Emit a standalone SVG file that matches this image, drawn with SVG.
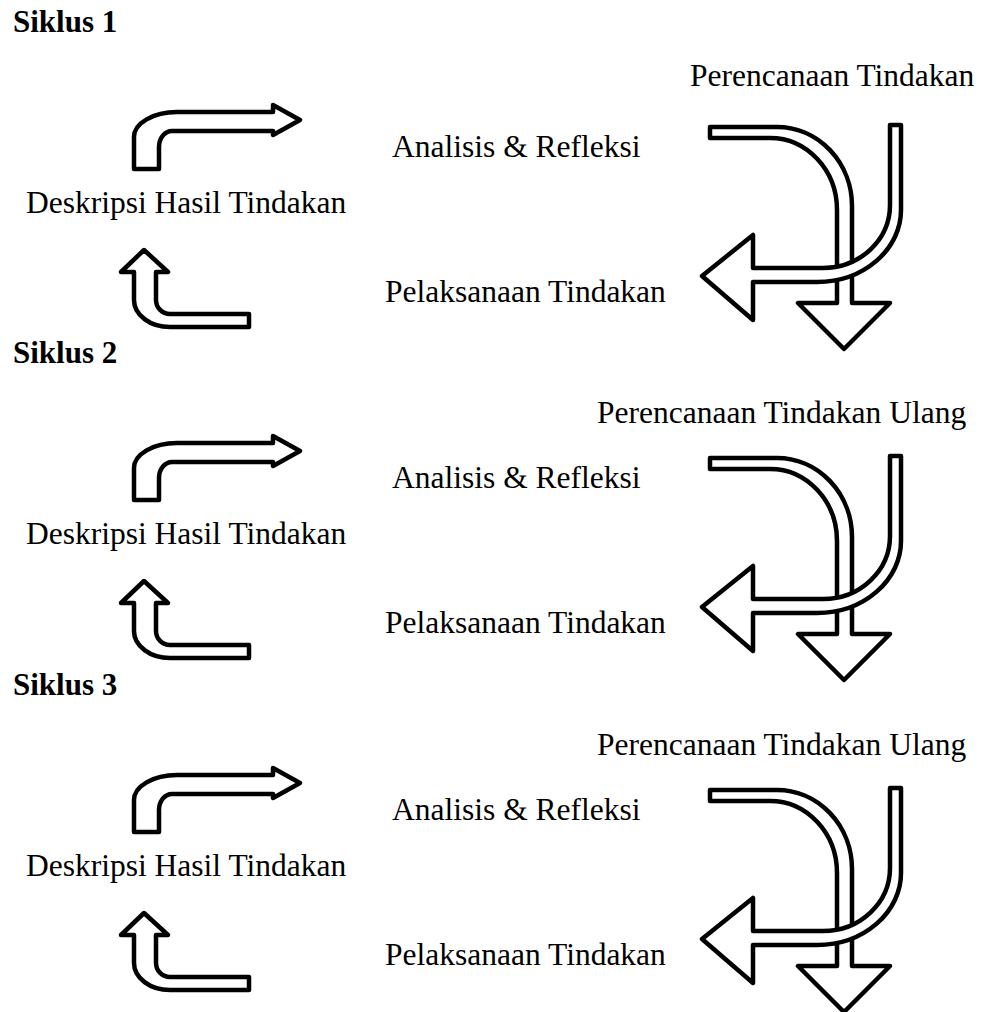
<svg xmlns="http://www.w3.org/2000/svg" width="982" height="1012" viewBox="0 0 982 1012">
  <defs>
    <style>
      .lbl { font-family: "Liberation Serif", "Times New Roman", serif; font-size: 31.5px; fill: #000; }
      .ttl { font-family: "Liberation Serif", "Times New Roman", serif; font-size: 31px; font-weight: bold; fill: #000; }
      .arr { fill: #fff; stroke: #000; stroke-width: 4.5; stroke-linejoin: round; }
    </style>
    <g id="cycle-arrows">
      <path class="arr" d="M134,169 L134,137 A43,25 0 0 1 177,112 L273,112 L273,105 L300,120 L273,135 L273,131 L172,131 A13,16 0 0 0 159,147 L159,169 Z"/>
      <path class="arr" d="M144,250 L168,272 L156,272 L156,300 A14,14 0 0 0 170,314 L249,314 L249,327 L170,327 A36,27 0 0 1 134,300 L134,272 L121,272 Z"/>
      <path class="arr" d="M710,127 L777,127 A75,79 0 0 1 852,206 L852,303 L890,303 L844,349 L798,303 L837,303 L837,210 A67,72 0 0 0 770,138 L710,138 Z"/>
      <path class="arr" d="M890,125 L901,125 L901,210 A84,72 0 0 1 817,282 L753,282 L753,320 L702,276 L753,235 L753,268 L823,268 A67,63 0 0 0 890,205 Z"/>
    </g>
  </defs>
  <rect x="0" y="0" width="982" height="1012" fill="#fff"/>

  <!-- Siklus 1 -->
  <g id="siklus1">
    <g id="s1-title"><text class="ttl" x="13" y="32">Siklus 1</text></g>
    <g id="s1-perencanaan"><text class="lbl" x="690" y="86">Perencanaan Tindakan</text></g>
    <g id="s1-analisis"><text class="lbl" x="392" y="157">Analisis &amp; Refleksi</text></g>
    <g id="s1-deskripsi"><text class="lbl" x="26" y="213">Deskripsi Hasil Tindakan</text></g>
    <g id="s1-pelaksanaan"><text class="lbl" x="385" y="302">Pelaksanaan Tindakan</text></g>
    <g id="s1-connectors"><use href="#cycle-arrows"/></g>
  </g>

  <!-- Siklus 2 -->
  <g id="siklus2" transform="translate(0,331)">
    <g id="s2-title"><text class="ttl" x="13" y="32">Siklus 2</text></g>
    <g id="s2-perencanaan"><text class="lbl" x="597" y="92">Perencanaan Tindakan Ulang</text></g>
    <g id="s2-analisis"><text class="lbl" x="392" y="157">Analisis &amp; Refleksi</text></g>
    <g id="s2-deskripsi"><text class="lbl" x="26" y="213">Deskripsi Hasil Tindakan</text></g>
    <g id="s2-pelaksanaan"><text class="lbl" x="385" y="302">Pelaksanaan Tindakan</text></g>
    <g id="s2-connectors"><use href="#cycle-arrows"/></g>
  </g>

  <!-- Siklus 3 -->
  <g id="siklus3" transform="translate(0,663)">
    <g id="s3-title"><text class="ttl" x="13" y="32">Siklus 3</text></g>
    <g id="s3-perencanaan"><text class="lbl" x="597" y="92">Perencanaan Tindakan Ulang</text></g>
    <g id="s3-analisis"><text class="lbl" x="392" y="157">Analisis &amp; Refleksi</text></g>
    <g id="s3-deskripsi"><text class="lbl" x="26" y="213">Deskripsi Hasil Tindakan</text></g>
    <g id="s3-pelaksanaan"><text class="lbl" x="385" y="302">Pelaksanaan Tindakan</text></g>
    <g id="s3-connectors"><use href="#cycle-arrows"/></g>
  </g>
</svg>
